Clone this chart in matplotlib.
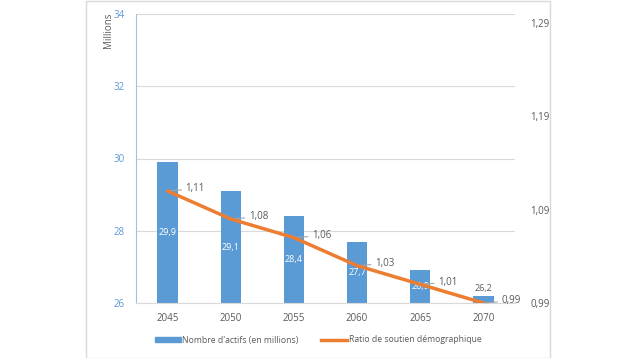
import matplotlib.pyplot as plt
import matplotlib.patches as mpatches
from matplotlib.lines import Line2D

years = ['2045', '2050', '2055', '2060', '2065', '2070']
actifs = [29.9, 29.1, 28.4, 27.7, 26.9, 26.2]  # millions
ratio = [1.11, 1.08, 1.06, 1.03, 1.01, 0.99]
actifs_lbl = ['29,9', '29,1', '28,4', '27,7', '26,9', '26,2']
ratio_lbl = ['1,11', '1,08', '1,06', '1,03', '1,01', '0,99']
left_ticks = [26, 28, 30, 32, 34]
right_ticks = [0.99, 1.09, 1.19, 1.29]
right_tick_lbl = ['0,99', '1,09', '1,19', '1,29']

BLUE = '#5b9bd5'
ORANGE = '#ed7d31'
GRID = '#d9d9d9'
TXT = '#595959'

plt.rcParams['font.family'] = ['Open Sans', 'DejaVu Sans']

fig = plt.figure(figsize=(6.36, 3.58), dpi=100)
W, H = 636, 358
ax = fig.add_axes([136 / W, 1 - 303 / H, (515 - 136) / W, (303 - 14) / H])
x = list(range(len(years)))

ax.bar(x, [a - 26 for a in actifs], bottom=26, width=0.32, color=BLUE, zorder=2)
ax.set_xlim(-0.5, len(years) - 0.5)
ax.set_ylim(26, 34)
ax.set_yticks(left_ticks)
ax.set_xticks(x)
ax.set_xticklabels(years)
ax.tick_params(axis='y', colors=BLUE, labelsize=7, length=0, pad=8)
ax.tick_params(axis='x', colors=TXT, labelsize=7, length=0, pad=7)
ax.grid(axis='y', color=GRID, linewidth=0.8, zorder=0)
for s in ['top', 'right']:
    ax.spines[s].set_visible(False)
ax.spines['left'].set_color('#9dc3e6')
ax.spines['bottom'].set_color(GRID)

for i, a in enumerate(actifs):
    if a - 26 > 0.5:
        ax.text(i, (26 + a) / 2, actifs_lbl[i], color='white', fontsize=6.5,
                ha='center', va='center', zorder=3)
    else:
        ax.text(i, a + 0.08, actifs_lbl[i], color=TXT, fontsize=6.5,
                ha='center', va='bottom', zorder=3)

ax2 = ax.twinx()
ax2.plot(x, ratio, color=ORANGE, linewidth=2.5, solid_capstyle='round', zorder=4)
ax2.set_ylim(0.99, 1.2996)
ax2.set_yticks(right_ticks)
ax2.set_yticklabels(right_tick_lbl)
ax2.tick_params(axis='y', colors=TXT, labelsize=7, length=0, pad=11)
for s in ax2.spines.values():
    s.set_visible(False)
for i, r in enumerate(ratio):
    ax2.annotate(ratio_lbl[i], xy=(i, r), xytext=(13, 1.5), textcoords='offset points',
                 fontsize=7, color=TXT, ha='left', va='center',
                 arrowprops=dict(arrowstyle='-', color='#a6a6a6', lw=0.8,
                                 shrinkA=1, shrinkB=1))

fig.text(109 / W, 1 - 12 / H, 'Millions', rotation=90, fontsize=7, color=TXT,
         ha='center', va='top')

handles = [mpatches.Patch(color=BLUE), Line2D([0], [0], color=ORANGE, linewidth=2.5)]
fig.legend(handles, ["Nombre d'actifs (en millions)", 'Ratio de soutien démographique'],
           loc='center', bbox_to_anchor=(0.5, 1 - 340 / H), ncol=2, frameon=False,
           fontsize=6.2, labelcolor=TXT, columnspacing=2.6, handlelength=3.0,
           handleheight=0.5, handletextpad=0.2)

fig.patches.append(mpatches.Rectangle((86 / W, 0.5 / H), (550 - 86) / W, (357 - 0.5) / H,
                                      transform=fig.transFigure, fill=False,
                                      edgecolor=GRID, linewidth=1))

fig.savefig('out.png', dpi=100)
